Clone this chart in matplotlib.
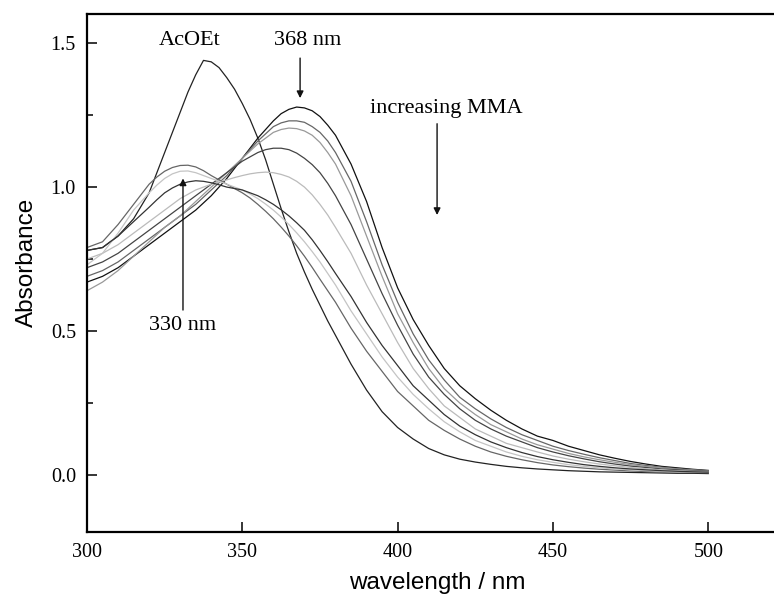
import numpy as np
import matplotlib.pyplot as plt

# wavelength grid (nm), finer around the band maxima
wl = np.array([300, 305, 310, 315]
              + list(np.arange(320, 380.1, 2.5))
              + list(range(385, 501, 5)))

# AcOEt
acoet = [0.78, 0.79, 0.83, 0.89,
         0.98, 1.05, 1.12, 1.19, 1.26, 1.33, 1.39, 1.44, 1.435, 1.415,
         1.38, 1.34, 1.29, 1.235, 1.17, 1.095, 1.01, 0.925, 0.845, 0.77,
         0.705, 0.645, 0.59, 0.535, 0.485,
         0.385, 0.295, 0.22, 0.165, 0.125, 0.092, 0.07, 0.055, 0.045, 0.037,
         0.03, 0.025, 0.021, 0.018, 0.015, 0.013, 0.011, 0.010, 0.009, 0.008,
         0.007, 0.006, 0.006, 0.005]

# band at 368 nm, decreasing with MMA
s1 = [0.67, 0.69, 0.72, 0.76,
      0.80, 0.82, 0.84, 0.86, 0.88, 0.90, 0.92, 0.945, 0.97, 1.00,
      1.03, 1.065, 1.10, 1.135, 1.17, 1.20, 1.23, 1.255, 1.27, 1.278,
      1.275, 1.265, 1.245, 1.215, 1.18,
      1.08, 0.95, 0.79, 0.65, 0.54, 0.45, 0.37, 0.31, 0.265, 0.225,
      0.19, 0.16, 0.135, 0.12, 0.10, 0.085, 0.07, 0.058, 0.047, 0.038,
      0.03, 0.025, 0.02, 0.016]
s2 = [0.69, 0.71, 0.74, 0.78,
      0.82, 0.84, 0.86, 0.88, 0.90, 0.92, 0.94, 0.965, 0.99, 1.015,
      1.04, 1.07, 1.10, 1.13, 1.16, 1.185, 1.21, 1.223, 1.23, 1.23,
      1.225, 1.21, 1.19, 1.16, 1.12,
      1.02, 0.88, 0.73, 0.60, 0.49, 0.40, 0.33, 0.27, 0.23, 0.195,
      0.165, 0.14, 0.12, 0.10, 0.085, 0.072, 0.06, 0.05, 0.04, 0.033,
      0.027, 0.022, 0.018, 0.015]
s3 = [0.64, 0.67, 0.71, 0.76,
      0.81, 0.835, 0.86, 0.88, 0.90, 0.925, 0.95, 0.975, 1.00, 1.025,
      1.05, 1.075, 1.10, 1.125, 1.15, 1.17, 1.19, 1.20, 1.205, 1.203,
      1.195, 1.18, 1.155, 1.12, 1.08,
      0.97, 0.83, 0.69, 0.56, 0.46, 0.37, 0.30, 0.25, 0.21, 0.175,
      0.15, 0.125, 0.105, 0.09, 0.075, 0.063, 0.053, 0.044, 0.036, 0.03,
      0.025, 0.02, 0.017, 0.014]
s4 = [0.72, 0.74, 0.77, 0.81,
      0.85, 0.87, 0.89, 0.91, 0.93, 0.95, 0.97, 0.99, 1.01, 1.03,
      1.05, 1.07, 1.09, 1.105, 1.12, 1.13, 1.135, 1.135, 1.13, 1.118,
      1.10, 1.078, 1.05, 1.013, 0.97,
      0.87, 0.75, 0.63, 0.52, 0.42, 0.34, 0.28, 0.23, 0.19, 0.16,
      0.135, 0.115, 0.095, 0.08, 0.067, 0.056, 0.046, 0.038, 0.031, 0.026,
      0.021, 0.018, 0.015, 0.013]
s5 = [0.75, 0.77, 0.80, 0.84,
      0.88, 0.90, 0.92, 0.94, 0.96, 0.975, 0.99, 1.00, 1.01, 1.018,
      1.025, 1.033, 1.04, 1.046, 1.05, 1.052, 1.05, 1.044, 1.035, 1.02,
      1.00, 0.973, 0.94, 0.903, 0.86,
      0.77, 0.66, 0.56, 0.46, 0.37, 0.30, 0.24, 0.20, 0.16, 0.135,
      0.11, 0.095, 0.08, 0.066, 0.055, 0.046, 0.038, 0.032, 0.026, 0.022,
      0.018, 0.015, 0.013, 0.011]
# band at 330 nm, increasing with MMA
s6 = [0.79, 0.81, 0.87, 0.94,
      1.01, 1.035, 1.055, 1.068, 1.075, 1.076, 1.07, 1.057, 1.04, 1.025,
      1.01, 0.995, 0.98, 0.962, 0.94, 0.916, 0.89, 0.861, 0.83, 0.796,
      0.76, 0.721, 0.68, 0.64, 0.60,
      0.51, 0.43, 0.36, 0.29, 0.24, 0.19, 0.155, 0.125, 0.10, 0.08,
      0.065, 0.053, 0.043, 0.035, 0.029, 0.024, 0.02, 0.017, 0.014, 0.012,
      0.011, 0.010, 0.009, 0.008]
s7 = [0.73, 0.77, 0.84, 0.92,
      0.98, 1.007, 1.03, 1.046, 1.055, 1.056, 1.05, 1.04, 1.03, 1.02,
      1.01, 1.00, 0.99, 0.976, 0.96, 0.941, 0.92, 0.896, 0.87, 0.841,
      0.81, 0.776, 0.74, 0.70, 0.66,
      0.57, 0.49, 0.41, 0.34, 0.28, 0.23, 0.185, 0.15, 0.12, 0.10,
      0.08, 0.065, 0.053, 0.044, 0.036, 0.03, 0.025, 0.021, 0.018, 0.015,
      0.013, 0.011, 0.010, 0.009]
s8 = [0.78, 0.79, 0.83, 0.88,
      0.93, 0.956, 0.98, 0.997, 1.01, 1.018, 1.022, 1.02, 1.015, 1.008,
      1.00, 0.995, 0.99, 0.98, 0.97, 0.956, 0.94, 0.921, 0.90, 0.876,
      0.85, 0.817, 0.78, 0.741, 0.70,
      0.62, 0.53, 0.45, 0.38, 0.31, 0.26, 0.21, 0.17, 0.14, 0.115,
      0.095, 0.078, 0.064, 0.053, 0.044, 0.036, 0.03, 0.025, 0.021, 0.018,
      0.015, 0.013, 0.011, 0.010]

spectra = [acoet, s1, s2, s3, s4, s5, s6, s7, s8]
greys = ['#222222', '#111111', '#666666', '#999999', '#444444',
         '#bbbbbb', '#666666', '#c4c4c4', '#333333']

serif = 'Liberation Serif'
sans = 'Liberation Sans'

fig = plt.figure(figsize=(7.74, 6), dpi=100)
# axes run past the right edge of the picture (cropped original)
ax = fig.add_axes([0.1124, 0.1133, 1.204, 0.8633])

for y, c in zip(spectra, greys):
    ax.plot(wl, y, color=c, lw=0.9)

ax.set_xlim(300, 600)
ax.set_ylim(-0.198, 1.601)
ax.set_xticks([300, 350, 400, 450, 500])
ax.set_yticks([0.0, 0.5, 1.0, 1.5])
ax.set_yticks([0.25, 0.75, 1.25], minor=True)
ax.set_yticklabels(['0.0', '0.5', '1.0', '1.5'])
ax.tick_params(direction='in', length=7, width=1.1, labelsize=14.5, pad=8)
ax.tick_params(which='minor', direction='in', length=4, width=1.1)
for lab in ax.get_xticklabels() + ax.get_yticklabels():
    lab.set_family(serif)
for sp in ax.spines.values():
    sp.set_linewidth(1.6)

ax.set_xlabel('wavelength / nm', family=sans, fontsize=17.5)
ax.set_ylabel('Absorbance', family=sans, fontsize=17.5)
ax.xaxis.set_label_coords(0.3755, -0.098)
ax.xaxis.label.set_va('center')
ax.yaxis.set_label_coords(-0.064, 0.52)
ax.yaxis.label.set_va('center')

# labels and arrows
ax.text(333, 1.51, 'AcOEt', family=serif, fontsize=16, ha='center', va='center')
ax.text(371, 1.51, '368 nm', family=serif, fontsize=16, ha='center', va='center')
ax.text(391, 1.274, 'increasing MMA', family=serif, fontsize=16, ha='left', va='center')
ax.text(330.9, 0.52, '330 nm', family=serif, fontsize=16, ha='center', va='center')

arr = dict(arrowstyle='-|>', color='#111111', lw=1.0, mutation_scale=10, shrinkA=0, shrinkB=0)
ax.annotate('', xy=(368.6, 1.309), xytext=(368.6, 1.448), arrowprops=arr)
ax.annotate('', xy=(412.7, 0.903), xytext=(412.7, 1.22), arrowprops=arr)
ax.annotate('', xy=(330.9, 1.03), xytext=(330.9, 0.573), arrowprops=arr)

fig.savefig('out.png', dpi=100)
